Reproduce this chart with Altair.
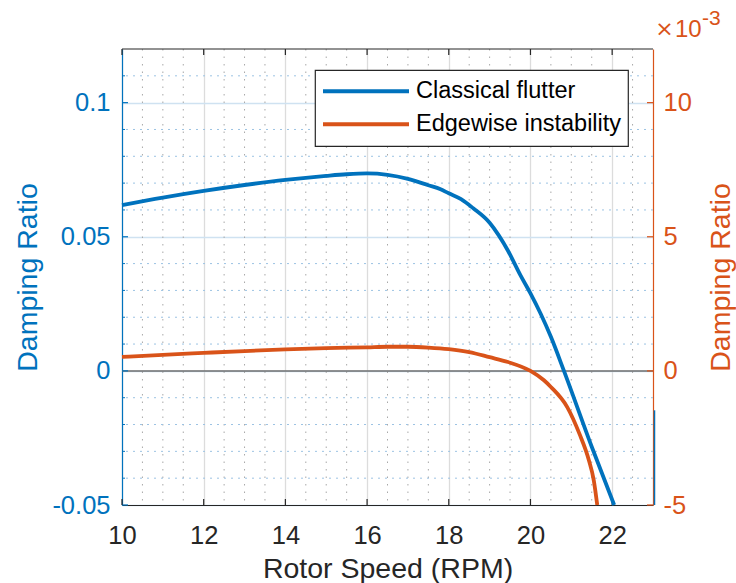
import altair as alt
import pandas as pd

# ---------------- data ----------------
series = ["Classical flutter", "Edgewise instability"]
colors = ["#0072BD", "#D95319"]

speed_cf = [10.0, 11.0, 12.0, 13.0, 14.0, 15.0, 15.5, 16.0, 16.5, 17.0, 17.5,
            17.8, 18.0, 18.3, 18.6, 19.0, 19.22, 19.45, 19.75, 20.0, 20.25,
            20.5, 20.82, 21.5, 22.05]
damp_cf = [0.0618, 0.0646, 0.0671, 0.0693, 0.0712, 0.0727, 0.0733, 0.0736,
           0.0731, 0.0716, 0.0692, 0.0677, 0.0662, 0.0640, 0.0606, 0.0552,
           0.0506, 0.0448, 0.0358, 0.0289, 0.0213, 0.0127, 0.0, -0.0283,
           -0.0500]

speed_ei = [10.0, 11.0, 12.0, 13.0, 14.0, 15.0, 16.0, 16.5, 17.0, 17.5, 18.0,
            18.5, 19.0, 19.45, 20.0, 20.33, 20.5, 20.9, 21.2, 21.43, 21.55, 21.635]
damp_ei_e3 = [0.52, 0.60, 0.67, 0.74, 0.80, 0.85, 0.88, 0.90, 0.90, 0.87, 0.81,
              0.70, 0.51, 0.33, 0.0, -0.35, -0.60, -1.35, -2.35, -3.33, -4.08,
              -5.00]

x_domain = [10, 23]
yl_domain = [-0.05, 0.12]
yr_domain = [-5, 12]

x_ticks = [10, 12, 14, 16, 18, 20, 22]
x_minor = [10.5, 11, 11.5, 12.5, 13, 13.5, 14.5, 15, 15.5, 16.5, 17, 17.5,
           18.5, 19, 19.5, 20.5, 21, 21.5, 22.5]
yl_ticks = [-0.05, 0, 0.05, 0.1]
yl_minor = [-0.04, -0.03, -0.02, -0.01, 0.01, 0.02, 0.03, 0.04,
            0.06, 0.07, 0.08, 0.09, 0.11]
yr_ticks = [-5, 0, 5, 10]
zero_line = [0.0]
top_edge = [0.12]
edge_seg_y = [-0.0147]
edge_seg_y2 = [-0.05]
exp_times = ["×"]
exp_base = ["10"]
exp_power = ["-3"]

BLUE, ORANGE, DARK = colors[0], colors[1], "#262626"
FONT = "Liberation Sans"

# ---------------- scales / axes ----------------
xscale = alt.Scale(domain=x_domain, nice=False, zero=False)
ylscale = alt.Scale(domain=yl_domain, nice=False, zero=False)
yrscale = alt.Scale(domain=yr_domain, nice=False, zero=False)

xaxis = alt.Axis(values=x_ticks, labelExpr="toString(datum.value)",
                 title="Rotor Speed (RPM)", ticks=False, tickSize=0,
                 labelFlush=False, labelPadding=18, titlePadding=6, grid=True,
                 gridColor="#dcdcdc", gridWidth=1.3, domainColor=DARK,
                 domainWidth=1.2, labelColor=DARK, titleColor=DARK)
ylaxis = alt.Axis(values=yl_ticks, labelExpr="toString(datum.value)",
                  title="Damping Ratio", orient="left", ticks=False, tickSize=0,
                  labelFlush=False, labelPadding=12, titlePadding=9, grid=True,
                  gridColor="#cfe2f1", gridWidth=1.3, domainColor=BLUE,
                  domainWidth=1.2, labelColor=BLUE, titleColor=BLUE)
yraxis = alt.Axis(values=yr_ticks, labelExpr="toString(datum.value)",
                  title="Damping Ratio", orient="right", ticks=False, tickSize=0,
                  labelFlush=False, labelPadding=10, titlePadding=15,
                  titleAngle=270, titleBaseline="top", grid=False,
                  domainColor=ORANGE, domainWidth=1.2, labelColor=ORANGE,
                  titleColor=ORANGE)


def X(field=None, datum=None):
    if datum is not None:
        return alt.X(datum=datum, type="quantitative", scale=xscale, axis=xaxis)
    return alt.X(field, type="quantitative", scale=xscale, axis=xaxis)


def YL(field=None, datum=None):
    if datum is not None:
        return alt.Y(datum=datum, type="quantitative", scale=ylscale, axis=ylaxis)
    return alt.Y(field, type="quantitative", scale=ylscale, axis=ylaxis)


def YR(field=None, datum=None):
    if datum is not None:
        return alt.Y(datum=datum, type="quantitative", scale=yrscale, axis=yraxis)
    return alt.Y(field, type="quantitative", scale=yrscale, axis=yraxis)


legend = alt.Legend(title=None, orient="none", legendX=193, legendY=21,
                    symbolType="stroke", symbolSize=86 * 86, symbolStrokeWidth=3.8,
                    clipHeight=30.5, rowPadding=2, labelFontSize=23.5,
                    labelFont=FONT, labelColor="#000000", padding=6,
                    fillColor="white", strokeColor=DARK, labelOffset=5,
                    labelLimit=500)
color = alt.Color("series:N", scale=alt.Scale(domain=series, range=colors),
                  legend=legend)

# ---------------- data frames ----------------
df_cf = pd.DataFrame({"x": speed_cf, "y": damp_cf, "series": series[0]})
df_ei = pd.DataFrame({"x": speed_ei, "y": damp_ei_e3, "series": series[1]})
df_xminor = pd.DataFrame({"x": x_minor})
df_yminor = pd.DataFrame({"y": yl_minor})
df_xticks = pd.DataFrame({"x": x_ticks})
df_ylticks = pd.DataFrame({"y": yl_ticks})
df_ylminor = pd.DataFrame({"y": yl_minor})
df_yrticks = pd.DataFrame({"y": yr_ticks})
df_zero = pd.DataFrame({"y": zero_line})
df_top = pd.DataFrame({"y": top_edge})
df_seg = pd.DataFrame({"x": [x_domain[1]], "y": edge_seg_y, "y2": edge_seg_y2})
df_exp = pd.DataFrame({"x": [x_domain[1]], "y": [yr_domain[1]],
                       "times": exp_times, "base": exp_base, "power": exp_power})

# ---------------- left-scale layers ----------------
minor_v = alt.Chart(df_xminor).mark_rule(
    color="#a8a8a8", strokeWidth=1, strokeDash=[1.5, 6]).encode(x=X("x"))
minor_h = alt.Chart(df_yminor).mark_rule(
    color="#9cc3e3", strokeWidth=1, strokeDash=[2, 5]).encode(y=YL("y"))
zero = alt.Chart(df_zero).mark_rule(color="#6e6e6e", strokeWidth=1.5).encode(
    y=YL("y"))
top = alt.Chart(df_top).mark_rule(color=DARK, strokeWidth=1.2).encode(y=YL("y"))
line_cf = alt.Chart(df_cf).mark_line(strokeWidth=3.8, interpolate="monotone").encode(
    x=X("x"), y=YL("y"), color=color)
lt_major = alt.Chart(df_ylticks).mark_rule(
    color=BLUE, strokeWidth=1.2, x2Offset=6).encode(
    y=YL("y"), x=X(datum=x_domain[0]), x2=alt.datum(x_domain[0]))
lt_minor = alt.Chart(df_ylminor).mark_rule(
    color=BLUE, strokeWidth=1, x2Offset=3).encode(
    y=YL("y"), x=X(datum=x_domain[0]), x2=alt.datum(x_domain[0]))
bt = alt.Chart(df_xticks).mark_rule(
    color=DARK, strokeWidth=1.2, y2Offset=-6).encode(
    x=X("x"), y=YL(datum=yl_domain[0]), y2=alt.datum(yl_domain[0]))
tt = alt.Chart(df_xticks).mark_rule(
    color=DARK, strokeWidth=1.2, y2Offset=6).encode(
    x=X("x"), y=YL(datum=yl_domain[1]), y2=alt.datum(yl_domain[1]))
seg = alt.Chart(df_seg).mark_rule(color=BLUE, strokeWidth=1.5, xOffset=1.5).encode(
    x=X("x"), y=YL("y"), y2="y2")

left = alt.layer(minor_v, minor_h, zero, top, lt_major, lt_minor, bt, tt, seg,
                 line_cf)

# ---------------- right-scale layers ----------------
line_ei = alt.Chart(df_ei).mark_line(strokeWidth=3.8, interpolate="monotone").encode(
    x=X("x"), y=YR("y"), color=color)
rt = alt.Chart(df_yrticks).mark_rule(
    color=ORANGE, strokeWidth=1.2, x2Offset=-6).encode(
    y=YR("y"), x=X(datum=x_domain[1]), x2=alt.datum(x_domain[1]))
exp0 = alt.Chart(df_exp).mark_text(
    align="center", baseline="alphabetic", dx=11.5, dy=-13, fontSize=22,
    font="DejaVu Sans", color=ORANGE).encode(x=X("x"), y=YR("y"), text="times:N")
exp1 = alt.Chart(df_exp).mark_text(
    align="left", baseline="alphabetic", dx=22, dy=-12, fontSize=24, font=FONT,
    color=ORANGE).encode(x=X("x"), y=YR("y"), text="base:N")
exp2 = alt.Chart(df_exp).mark_text(
    align="left", baseline="alphabetic", dx=49, dy=-24, fontSize=21, font=FONT,
    color=ORANGE).encode(x=X("x"), y=YR("y"), text="power:N")

right = alt.layer(line_ei, rt, exp0, exp1, exp2)

chart = alt.layer(left, right).resolve_scale(y="independent").properties(
    width=531, height=456,
    padding={"left": 122, "top": 49, "right": 83, "bottom": 78},
    autosize=alt.AutoSizeParams(type="none"),
).configure_view(stroke=None).configure_axis(
    labelFont=FONT, titleFont=FONT, labelFontSize=25.5, titleFontSize=28.5,
    titleFontWeight="normal"
).configure_legend(strokeWidth=1.2)

chart.save("out.html", embed_options={"renderer": "svg", "actions": False})
